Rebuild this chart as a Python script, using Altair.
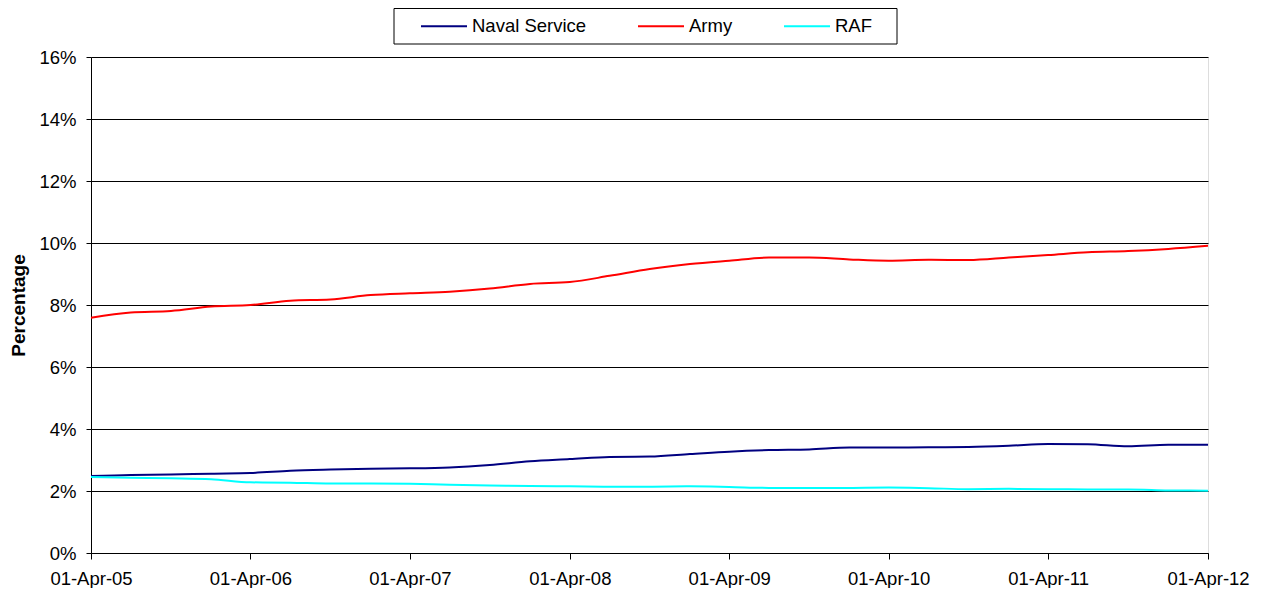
import altair as alt
import pandas as pd

dates = [
    "2005-04-01", "2005-07-01", "2005-10-01", "2006-01-01",
    "2006-04-01", "2006-07-01", "2006-10-01", "2007-01-01",
    "2007-04-01", "2007-07-01", "2007-10-01", "2008-01-01",
    "2008-04-01", "2008-07-01", "2008-10-01", "2009-01-01",
    "2009-04-01", "2009-07-01", "2009-10-01", "2010-01-01",
    "2010-04-01", "2010-07-01", "2010-10-01", "2011-01-01",
    "2011-04-01", "2011-07-01", "2011-10-01", "2012-01-01",
    "2012-04-01",
]

naval = [2.48, 2.52, 2.53, 2.56, 2.58, 2.65, 2.69, 2.72, 2.73, 2.76,
         2.84, 2.96, 3.03, 3.10, 3.11, 3.19, 3.27, 3.32, 3.34, 3.40,
         3.40, 3.41, 3.42, 3.46, 3.52, 3.51, 3.44, 3.49, 3.49]
army = [7.59, 7.76, 7.81, 7.95, 8.00, 8.14, 8.18, 8.32, 8.38, 8.43,
        8.53, 8.68, 8.74, 8.94, 9.16, 9.32, 9.43, 9.53, 9.53, 9.47,
        9.43, 9.46, 9.45, 9.53, 9.61, 9.70, 9.74, 9.81, 9.91]
raf = [2.45, 2.43, 2.41, 2.38, 2.28, 2.27, 2.24, 2.24, 2.23, 2.20,
       2.18, 2.16, 2.15, 2.14, 2.14, 2.15, 2.13, 2.10, 2.10, 2.10,
       2.11, 2.09, 2.06, 2.07, 2.06, 2.05, 2.05, 2.02, 2.01]

series_names = ["Naval Service", "Army", "RAF"]
series_colors = ["#000080", "#FF0000", "#00FFFF"]
tick_years = [2005, 2006, 2007, 2008, 2009, 2010, 2011, 2012]
y_ticks = [0, 2, 4, 6, 8, 10, 12, 14, 16]

rows = []
for name, vals in zip(series_names, [naval, army, raf]):
    for d, v in zip(dates, vals):
        rows.append({"date": d, "value": v, "series": name})
df = pd.DataFrame(rows)

FONT = "Liberation Sans"

lines = alt.Chart(df).mark_line(strokeWidth=2, interpolate="monotone").encode(
    x=alt.X(
        "date:T",
        scale=alt.Scale(
            type="utc",
            domain=[alt.DateTime(year=2005, month=4, date=1, utc=True),
                    alt.DateTime(year=2012, month=4, date=1, utc=True)],
        ),
        axis=alt.Axis(
            title=None,
            values=[alt.DateTime(year=y, month=4, date=1, utc=True) for y in tick_years],
            format="%d-%b-%y",
            grid=False,
            tickSize=6,
            tickColor="black",
            domainColor="black",
            labelColor="black",
            labelFontSize=18.5,
            labelPadding=10,
            labelFont=FONT,
            labelFlush=False,
            labelOverlap=False,
        ),
    ),
    y=alt.Y(
        "value:Q",
        scale=alt.Scale(domain=[0, 16], nice=False),
        axis=alt.Axis(
            title="Percentage",
            titleFontSize=19,
            titleFontWeight="bold",
            titleColor="black",
            titleFont=FONT,
            titlePadding=10,
            values=y_ticks,
            labelExpr="datum.value + '%'",
            grid=True,
            gridColor="black",
            gridWidth=1,
            tickSize=5,
            tickColor="black",
            domainColor="black",
            labelColor="black",
            labelFontSize=18.5,
            labelPadding=10,
            labelFont=FONT,
        ),
    ),
    color=alt.Color(
        "series:N",
        scale=alt.Scale(domain=series_names, range=series_colors),
        legend=alt.Legend(
            title=None,
            orient="none",
            legendX=329,
            legendY=-55,
            direction="horizontal",
            symbolType="stroke",
            symbolSize=2116,
            symbolStrokeWidth=2,
            labelFontSize=18.5,
            labelFont=FONT,
            labelColor="black",
            labelOffset=4,
            columnPadding=47,
            padding=0,
        ),
    ),
    order=alt.Order("date:T"),
)

frame = alt.Chart(pd.DataFrame({"k": [0]})).mark_rect(
    filled=False, stroke="black", strokeWidth=1
).encode(
    x=alt.value(303), x2=alt.value(806), y=alt.value(-48.5), y2=alt.value(-13)
)

chart = alt.layer(frame, lines).properties(
    width=1117,
    height=496,
    autosize=alt.AutoSizeParams(type="none"),
    padding={"left": 83, "top": 49, "right": 52, "bottom": 35},
).configure_view(
    stroke="#808080", strokeWidth=1
).configure(
    font=FONT
)

chart.save("out.html", embed_options={"renderer": "svg", "actions": False})
